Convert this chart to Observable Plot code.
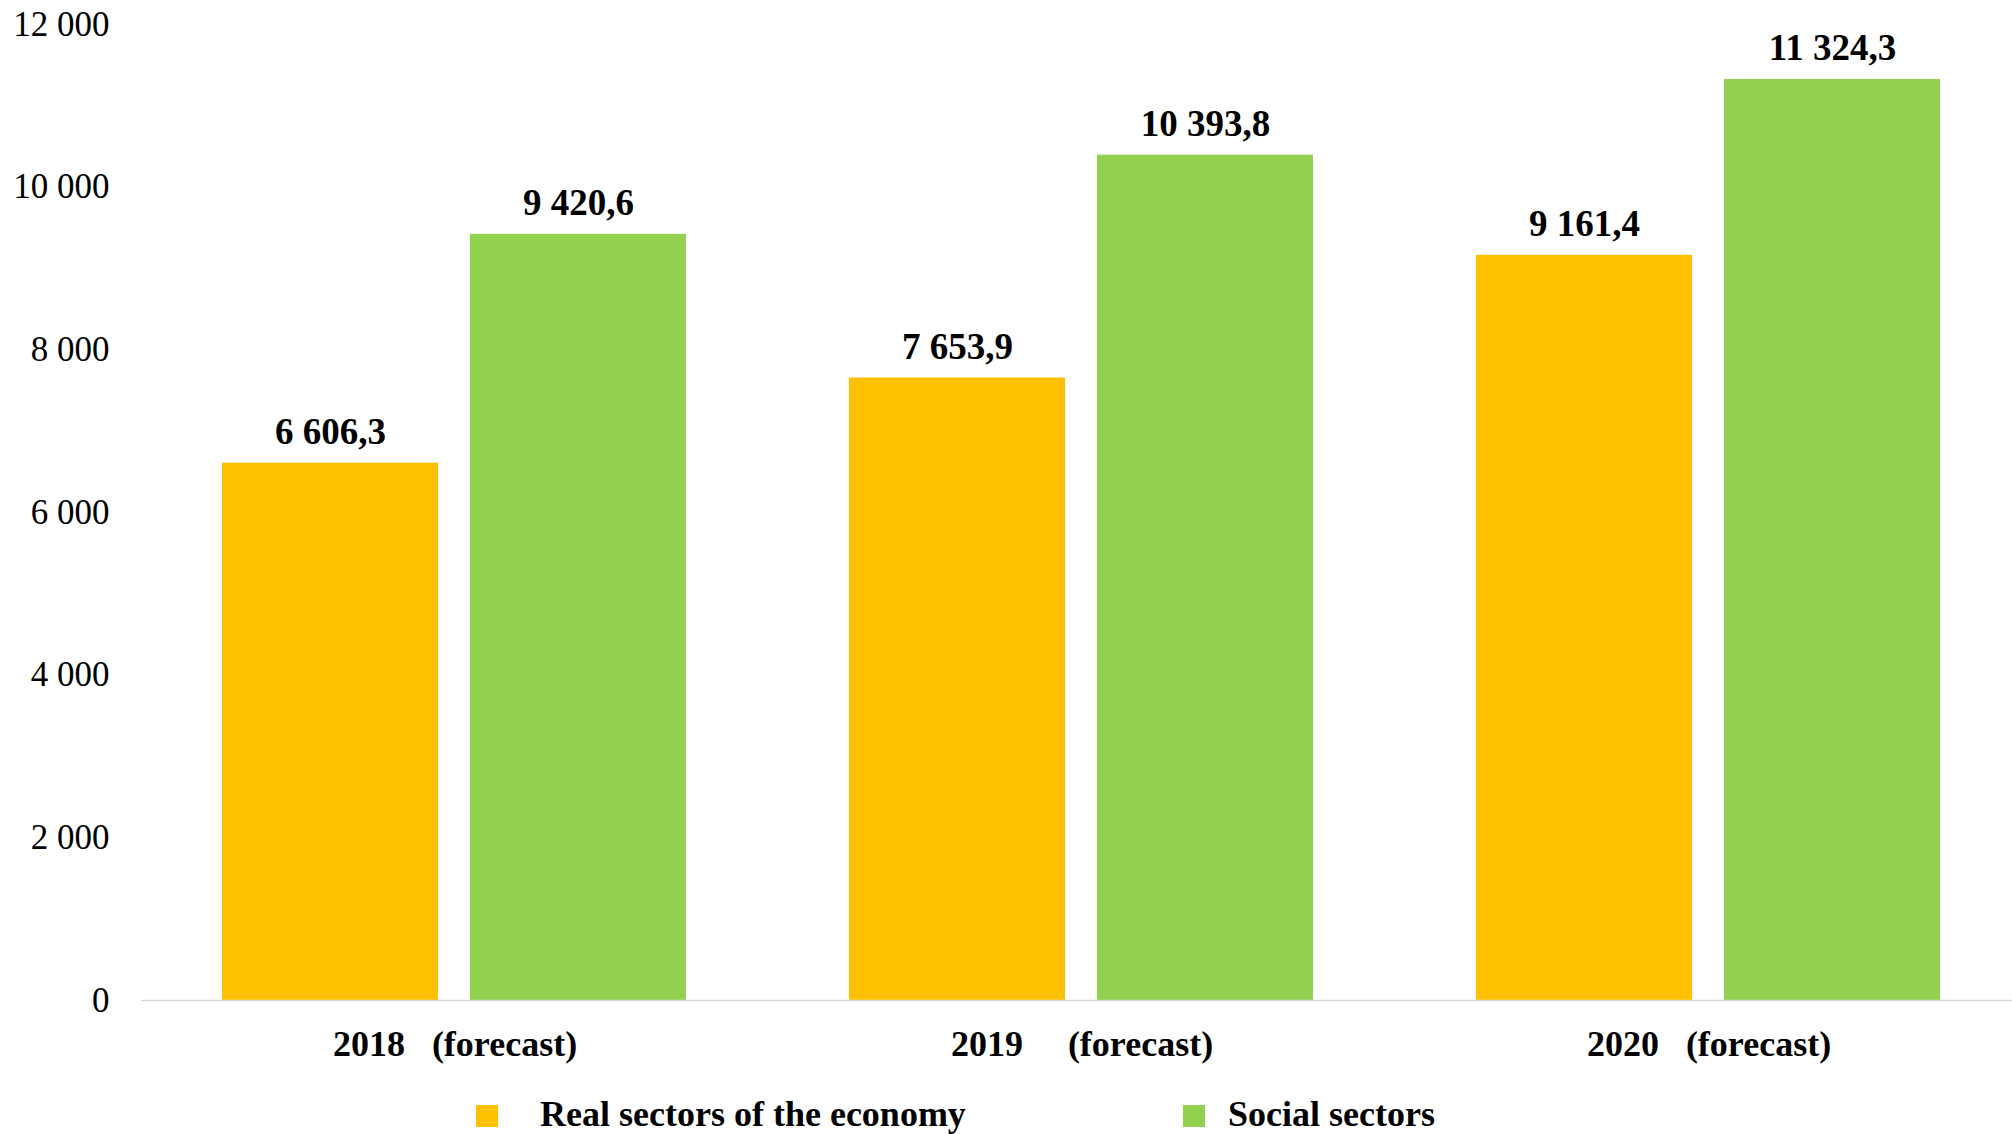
<!DOCTYPE html>
<html>
<head>
<meta charset="utf-8">
<script src="https://cdn.jsdelivr.net/npm/d3@7"></script>
<script src="https://cdn.jsdelivr.net/npm/@observablehq/plot@0.6"></script>
<style>
  html, body { margin: 0; background: #fff; overflow: hidden; }
  #chart { position: relative; width: 2012px; height: 1134px; background: #fff; overflow: hidden; }
  #chart svg { max-width: none !important; }
  .legend { position: absolute; left: 0; top: 1070px; width: 2012px; height: 64px;
            font: bold 36px "Liberation Serif", "Times New Roman", serif; color: #000; }
  .legend .sw { position: absolute; width: 22px; height: 22px; top: 35px; }
  .legend .lb { position: absolute; top: 24px; line-height: 40px; white-space: nowrap; }
</style>
</head>
<body>
<div id="chart"></div>
<script>
// ---- data ----
const years = ["2018", "2019", "2020"];
const yearLabels = ["2018\u00a0\u00a0\u00a0(forecast)", "2019\u00a0\u00a0\u00a0\u00a0\u00a0(forecast)", "2020\u00a0\u00a0\u00a0(forecast)"];
const seriesNames = ["Real sectors of the economy", "Social sectors"];
const realValues = [6606.3, 7653.9, 9161.4];
const socialValues = [9420.6, 10393.8, 11324.3];
const seriesColors = ["#FFC000", "#92D050"];
const yTicks = [0, 2000, 4000, 6000, 8000, 10000, 12000];

const data = years.flatMap((y, i) => [
  {year: y, series: seriesNames[0], value: realValues[i]},
  {year: y, series: seriesNames[1], value: socialValues[i]}
]);

const loc = d3.formatLocale({decimal: ",", thousands: "\u00a0", grouping: [3], currency: ["", ""]});
const fmtVal = loc.format(",.1f");
const fmtTick = d => d3.format(",d")(d).replace(/,/g, " ");

const chart = Plot.plot({
  width: 2022,
  height: 1070,
  marginLeft: 141,
  marginRight: 0,
  marginTop: 24,
  marginBottom: 70,
  style: {fontFamily: "'Liberation Serif', 'Times New Roman', serif", background: "#fff", color: "#000", maxWidth: "none"},
  fx: {domain: years, padding: 0, label: null},
  x: {domain: seriesNames, paddingInner: 0.129, paddingOuter: 0.3285, axis: null},
  y: {domain: [0, 12000], label: null},
  color: {domain: seriesNames, range: seriesColors},
  marks: [
    Plot.barY(data, {fx: "year", x: "series", y: "value", fill: "series"}),
    Plot.ruleY([0], {stroke: "#d9d9d9", strokeWidth: 1.5}),
    Plot.text(data, {fx: "year", x: "series", y: "value", text: d => fmtVal(d.value),
      dy: -31, fontSize: 37, fontWeight: "bold", fill: "#000"}),
    Plot.axisY({ticks: yTicks, tickFormat: fmtTick, tickSize: 0, tickPadding: 32, fontSize: 35, label: null}),
    Plot.axisFx({anchor: "bottom", tickSize: 0, tickPadding: 30, fontSize: 36, fontWeight: "bold", label: null,
      tickFormat: d => yearLabels[years.indexOf(d)]})
  ]
});

const root = document.getElementById("chart");
root.appendChild(chart);

const legend = document.createElement("div");
legend.className = "legend";
const legendPos = [[476, 540], [1183, 1228]];
seriesNames.forEach((name, i) => {
  const sw = document.createElement("div");
  sw.className = "sw";
  sw.style.left = legendPos[i][0] + "px";
  sw.style.background = seriesColors[i];
  const lb = document.createElement("div");
  lb.className = "lb";
  lb.style.left = legendPos[i][1] + "px";
  lb.textContent = name;
  legend.appendChild(sw);
  legend.appendChild(lb);
});
root.appendChild(legend);
</script>
</body>
</html>
